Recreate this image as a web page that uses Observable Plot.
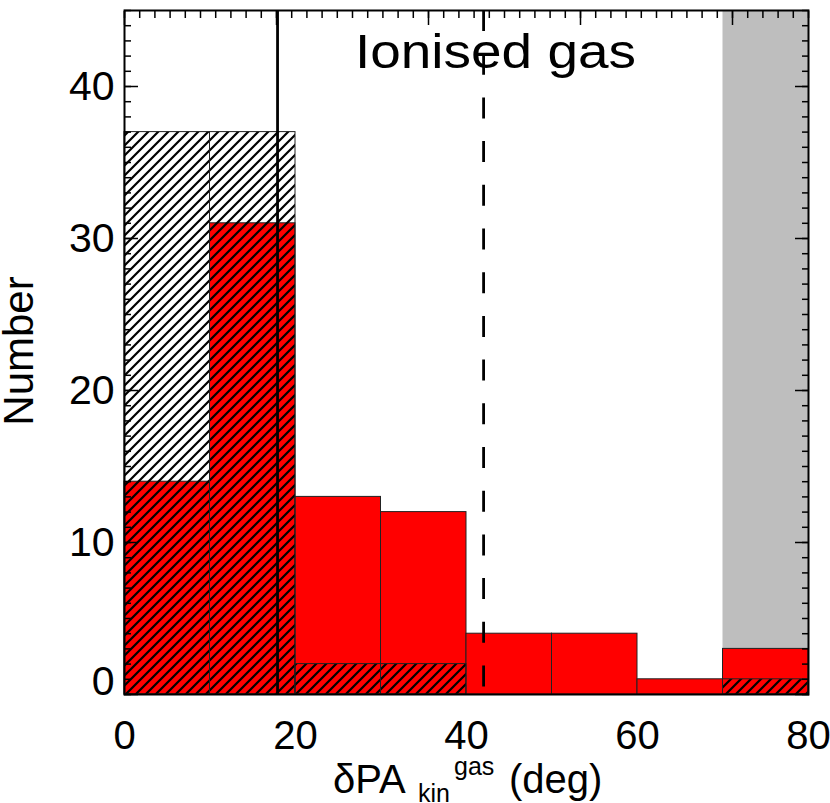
<!DOCTYPE html>
<html>
<head>
<meta charset="utf-8">
<script src="https://cdn.jsdelivr.net/npm/d3@7"></script>
<script src="https://cdn.jsdelivr.net/npm/@observablehq/plot@0.6"></script>
<style>
  html, body { margin: 0; padding: 0; background: #fff; }
  #chart { width: 830px; height: 803px; }
</style>
</head>
<body>
<div id="chart"></div>
<script>
// ---- data ----
const binStarts = [0, 10, 20, 30, 40, 50, 60, 70];
const binWidth = 10;
const ionisedCounts = [14, 31, 13, 12, 4, 4, 1, 3];   // red histogram
const hatchedCounts = [37, 37, 2, 2, 0, 0, 0, 1];     // hatched histogram
const shadedRange = [70, 80];                         // grey band
const solidLineX = [17.9];                            // solid vertical line
const dashedLineX = [42.0];                           // dashed vertical line
const xTickLabels = [0, 20, 40, 60, 80];
const yTickLabels = [10, 20, 30, 40];
const yZeroLabel = [0];
const xDomain = [0, 80];
const yDomain = [0, 45];
const titleText = "Ionised gas";
const yLabelText = "Number";

// tick positions for the box axes
const yMinor = d3.range(0, 46, 1);
const yMajor = d3.range(0, 46, 10);
// top axis in the reference is drawn on a 0-45 scale across the same width
const topMinor = d3.range(0, 46, 1).map(v => v * xDomain[1] / yDomain[1]);
const topMajor = d3.range(0, 46, 10).map(v => v * xDomain[1] / yDomain[1]);

const rows = binStarts.map((lo, i) => ({
  lo, hi: lo + binWidth, ionised: ionisedCounts[i], hatched: hatchedCounts[i]
}));

const font = "'Liberation Sans', Arial, Helvetica, sans-serif";
const blank = () => "";

const svg = Plot.plot({
  width: 830,
  height: 803,
  marginLeft: 124,
  marginRight: 22,
  marginTop: 10,
  marginBottom: 109,
  style: { fontFamily: font, background: "#fff", overflow: "visible" },
  x: { domain: xDomain, axis: null },
  y: { domain: yDomain, axis: null },
  marks: [
    Plot.rect([shadedRange], { x1: d => d[0], x2: d => d[1], fill: "#bebebe" }),
    Plot.rectY(rows, { x1: "lo", x2: "hi", y: "ionised", fill: "#ff0000", stroke: "#222", strokeWidth: 1 }),
    Plot.rectY(rows.filter(d => d.hatched > 0), { x1: "lo", x2: "hi", y: "hatched", fill: "url(#hatch)", stroke: "#222", strokeWidth: 1 }),
    Plot.ruleX(solidLineX, { stroke: "#000", strokeWidth: 2.8 }),
    Plot.ruleX(dashedLineX, { stroke: "#000", strokeWidth: 2.8, strokeDasharray: "21,22.7" }),
    // inward ticks: left
    Plot.axisY({ anchor: "left", ticks: yMinor, tickSize: 7, dx: 7, tickFormat: blank, label: null, stroke: "#000", strokeWidth: 1.5 }),
    Plot.axisY({ anchor: "left", ticks: yMajor, tickSize: 14, dx: 14, tickFormat: blank, label: null, stroke: "#000", strokeWidth: 1.5 }),
    // inward ticks: right
    Plot.axisY({ anchor: "right", ticks: yMinor, tickSize: 7, dx: -7, tickFormat: blank, label: null, stroke: "#000", strokeWidth: 1.5 }),
    Plot.axisY({ anchor: "right", ticks: yMajor, tickSize: 14, dx: -14, tickFormat: blank, label: null, stroke: "#000", strokeWidth: 1.5 }),
    // inward ticks: top
    Plot.axisX({ anchor: "top", ticks: topMinor, tickSize: 7, dy: 7, tickFormat: blank, label: null, stroke: "#000", strokeWidth: 1.5 }),
    Plot.axisX({ anchor: "top", ticks: topMajor, tickSize: 14, dy: 14, tickFormat: blank, label: null, stroke: "#000", strokeWidth: 1.5 }),
    Plot.frame({ stroke: "#000", strokeWidth: 2 }),
    // tick labels
    Plot.axisY({ anchor: "left", ticks: yTickLabels, tickSize: 0, tickPadding: 10, fontSize: 41, label: null, fill: "#000" }),
    Plot.axisY({ anchor: "left", ticks: yZeroLabel, tickSize: 0, tickPadding: 10, dy: -13, fontSize: 41, label: null, fill: "#000" }),
    Plot.axisX({ anchor: "bottom", ticks: xTickLabels, tickSize: 0, tickPadding: 26, fontSize: 40, label: null, fill: "#000" }),
    // title inside the plot
    Plot.text([titleText], { text: d => d, frameAnchor: "top-left", dx: 371, dy: 23, textAnchor: "middle", lineAnchor: "top", fontSize: 48, fill: "#000", className: "plot-title-in" })
  ]
});

const root = d3.select(svg);
const defs = root.insert("defs", ":first-child");
const pat = defs.append("pattern")
  .attr("id", "hatch")
  .attr("patternUnits", "userSpaceOnUse")
  .attr("width", 10).attr("height", 10);
pat.append("path")
  .attr("d", "M-2,2 L2,-2 M0,10 L10,0 M8,12 L12,8")
  .attr("stroke", "#000").attr("stroke-width", 2.2).attr("fill", "none");

// widen the title to the reference's extent
root.selectAll("g.plot-title-in text")
  .attr("textLength", 281)
  .attr("lengthAdjust", "spacingAndGlyphs");

// y axis label
root.append("text")
  .attr("transform", "translate(33,351) rotate(-90)")
  .attr("text-anchor", "middle")
  .attr("font-family", font).attr("font-size", 42).attr("fill", "#000")
  .text(yLabelText);

// x axis label: δPA_kin^gas (deg)
const xl = root.append("text")
  .attr("text-anchor", "start")
  .attr("font-family", font).attr("fill", "#000");
xl.append("tspan").attr("x", 333).attr("y", 793).attr("font-size", 40).text("δPA");
xl.append("tspan").attr("x", 418).attr("y", 802).attr("font-size", 25).text("kin");
xl.append("tspan").attr("x", 454).attr("y", 775).attr("font-size", 25).text("gas");
xl.append("tspan").attr("x", 509).attr("y", 793).attr("font-size", 40).text("(deg)");

document.getElementById("chart").appendChild(svg);
</script>
</body>
</html>
